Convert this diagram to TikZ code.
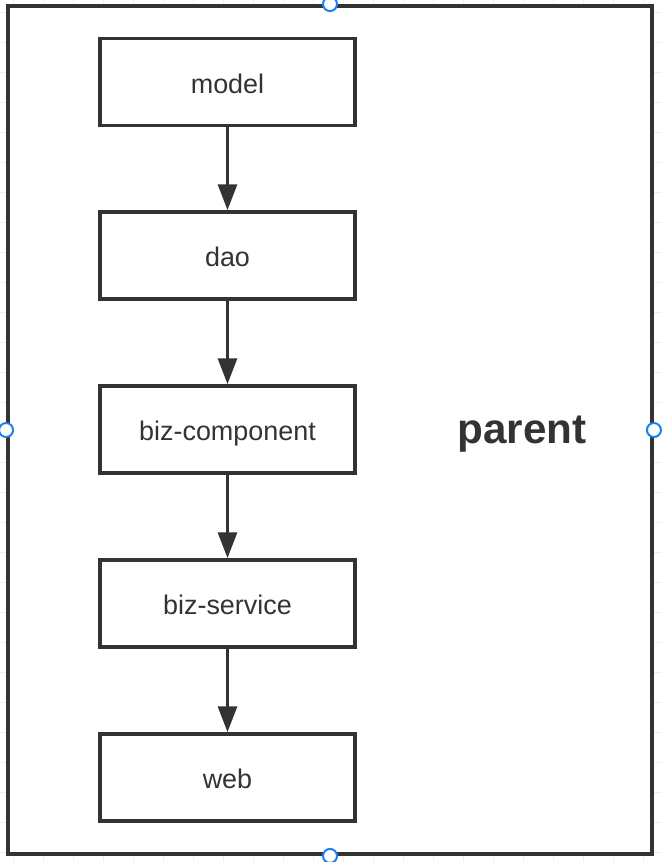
\documentclass[tikz,border=0pt]{standalone}
\usepackage{fontspec}
\setmainfont{Liberation Sans}
\usetikzlibrary{arrows.meta}

\definecolor{ink}{HTML}{333333}
\definecolor{handleblue}{HTML}{1A7FEF}
\definecolor{gridgray}{HTML}{EFEFEF}

\begin{document}
\begin{tikzpicture}[
  x=1cm, y=1cm,
  every node/.style={inner sep=1pt},
  module/.style={rectangle, draw=ink, line width=2.9pt, fill=white,
    minimum width=7.65cm, minimum height=2.61cm, text=ink,
    text height=19pt, text depth=0pt,
    font=\fontsize{23}{27}\selectfont},
  frame/.style={rectangle, draw=ink, line width=3.3pt, fill=white,
    minimum width=19.32cm, minimum height=25.44cm, inner sep=0pt},
  handle/.style={circle, draw=handleblue, fill=white, line width=1.7pt,
    minimum size=0.42cm, inner sep=0pt},
  gridline/.style={draw=gridgray, line width=0.8pt},
  arrow/.style={draw=ink, line width=3.4pt,
    -{Triangle[length=0.78cm, width=0.56cm]}}]

  \useasboundingbox (0,0) rectangle (19.86,-25.86);

  % canvas grid, only seen round the frame
  \foreach \gx in {0.39,1.29,...,19.5}
    \draw[gridline] (\gx,0) -- (\gx,-25.86);
  \foreach \gy in {-0.36,-1.26,...,-25.8}
    \draw[gridline] (0,\gy) -- (19.86,\gy);

  % container
  \node[frame] (parentbox) at (9.90,-12.90) {};
  \node[text=ink, font=\bfseries\fontsize{36}{40}\selectfont]
    (parent) at (15.66,-13.02) {parent};

  % modules
  \node[module] (model)     at (6.825, -2.460) {model};
  \node[module] (dao)       at (6.825, -7.665) {dao};
  \node[module] (component) at (6.825,-12.885) {biz-component};
  \node[module] (service)   at (6.825,-18.105) {biz-service};
  \node[module] (web)       at (6.825,-23.325) {web};

  % dependencies
  \draw[arrow] (model)     -- (dao);
  \draw[arrow] (dao)       -- (component);
  \draw[arrow] (component) -- (service);
  \draw[arrow] (service)   -- (web);

  % selection handles of the frame
  \node[handle] (hn) at (parentbox.north) {};
  \node[handle] (hs) at (parentbox.south) {};
  \node[handle] (hw) at (parentbox.west)  {};
  \node[handle] (he) at (parentbox.east)  {};
\end{tikzpicture}
\end{document}
